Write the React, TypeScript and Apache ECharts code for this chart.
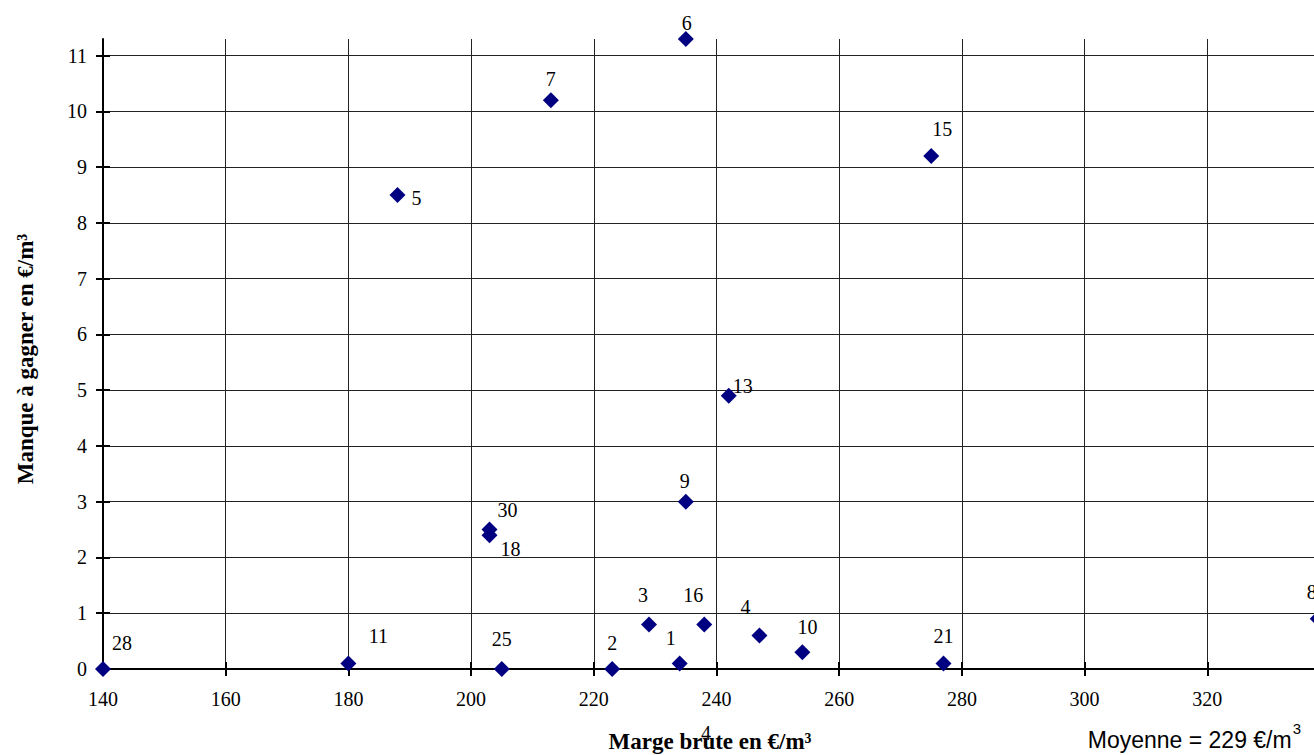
import React, { useEffect, useRef } from "react";
import * as echarts from "echarts";

// ---- data ----
const pointIds = ["28", "11", "5", "30", "18", "25", "7", "2", "3", "1", "16", "6", "9", "13", "4", "10", "15", "21", "8"];
const margeBrute = [140, 180, 188, 203, 203, 205, 213, 223, 229, 234, 238, 235, 235, 242, 247, 254, 275, 277, 338];
const manqueAGagner = [0, 0.1, 8.5, 2.5, 2.4, 0, 10.2, 0, 0.8, 0.1, 0.8, 11.3, 3.0, 4.9, 0.6, 0.3, 9.2, 0.1, 0.9];
const xTickValues = [140, 160, 180, 200, 220, 240, 260, 280, 300, 320, 340];
const xLabelValues = [140, 160, 180, 200, 220, 240, 260, 280, 300, 320];
const yTickValues = [0, 1, 2, 3, 4, 5, 6, 7, 8, 9, 10, 11];
const xTitle = "Marge brute en €/m³";
const yTitle = "Manque à gagner en €/m³";
const moyenneMain = "Moyenne = 229 €/m";
const moyenneSup = "3";

// ---- label placement (layout only) ----
const labelOffsets: Record<string, [number, number]> = {
  "28": [19, -26], "11": [30, -27], "5": [19, 3], "30": [18, -20], "18": [21, 14],
  "25": [0, -30], "7": [0, -21], "2": [0, -26], "3": [-6, -29], "1": [-9, -25],
  "16": [-11, -29], "6": [1, -16], "9": [-1, -21], "13": [14, -10], "4": [-14, -29],
  "10": [5, -25], "15": [11, -27], "21": [0, -27], "8": [-6, -27],
};

const SERIF = "'Liberation Serif', 'Times New Roman', serif";
const SANS = "'Liberation Sans', Arial, sans-serif";

export default function App() {
  const ref = useRef<HTMLDivElement>(null);
  useEffect(() => {
    if (!ref.current) return;
    const chart = echarts.init(ref.current, undefined, { renderer: "svg" });
    const data = pointIds.map((id, i) => ({
      name: id,
      value: [margeBrute[i], manqueAGagner[i]],
      label: { offset: labelOffsets[id] || [0, -25] },
    }));
    const axisLineStyle = { color: "#000", width: 2 };
    chart.setOption({
      animation: false,
      backgroundColor: "#fff",
      grid: { left: 103, top: 39, right: 0, bottom: 86, containLabel: false, outerBoundsMode: "none" },
      xAxis: [
        {
          type: "value",
          min: 140,
          max: 340,
          interval: 20,
          axisLine: { show: true, onZero: false, lineStyle: axisLineStyle },
          axisTick: { show: true, inside: false, length: 7, customValues: xTickValues, lineStyle: { color: "#000", width: 2 } },
          axisLabel: { show: true, margin: 20, color: "#000", fontFamily: SERIF, fontSize: 20, customValues: xLabelValues },
          splitLine: { show: true, lineStyle: { color: "#222", width: 1 } },
        },
        {
          type: "value",
          position: "bottom",
          min: 140,
          max: 340,
          interval: 20,
          axisLine: { show: false, onZero: false },
          axisTick: { show: true, inside: true, length: 7, customValues: xTickValues, lineStyle: { color: "#000", width: 2 } },
          axisLabel: { show: false },
          splitLine: { show: false },
        },
      ],
      yAxis: [
        {
          type: "value",
          min: 0,
          max: 11.3,
          interval: 1,
          axisLine: { show: true, onZero: false, lineStyle: axisLineStyle },
          axisTick: { show: true, inside: false, length: 7, customValues: yTickValues, lineStyle: { color: "#000", width: 2 } },
          axisLabel: { show: true, margin: 16, color: "#000", fontFamily: SERIF, fontSize: 20, customValues: yTickValues },
          splitLine: { show: true, lineStyle: { color: "#222", width: 1 } },
        },
        {
          type: "value",
          position: "left",
          min: 0,
          max: 11.3,
          interval: 1,
          axisLine: { show: false, onZero: false },
          axisTick: { show: true, inside: true, length: 7, customValues: yTickValues, lineStyle: { color: "#000", width: 2 } },
          axisLabel: { show: false },
          splitLine: { show: false },
        },
      ],
      series: [
        {
          type: "scatter",
          xAxisIndex: 0,
          yAxisIndex: 0,
          symbol: "diamond",
          symbolSize: 16,
          itemStyle: { color: "#000080", opacity: 1 },
          label: {
            show: true,
            position: "inside",
            formatter: "{b}",
            color: "#000",
            fontFamily: SERIF,
            fontSize: 20,
          },
          emphasis: { disabled: true },
          data,
          z: 5,
        },
      ],
      graphic: [
        {
          type: "text",
          x: 710,
          y: 741,
          style: { text: xTitle, font: `bold 23px ${SERIF}`, fill: "#000", textAlign: "center", textVerticalAlign: "middle" },
        },
        {
          type: "text",
          x: 25,
          y: 359,
          rotation: Math.PI / 2,
          style: { text: yTitle, font: `bold 23px ${SERIF}`, fill: "#000", textAlign: "center", textVerticalAlign: "middle" },
        },
        {
          type: "text",
          x: 706,
          y: 733,
          style: { text: "4", font: `20px ${SERIF}`, fill: "#000", textAlign: "center", textVerticalAlign: "middle" },
        },
        {
          type: "text",
          x: 1301,
          y: 736,
          style: {
            text: `{a|${moyenneMain}}{s|${moyenneSup}}`,
            fill: "#000",
            textAlign: "right",
            textVerticalAlign: "middle",
            rich: {
              a: { fontFamily: SANS, fontSize: 23, lineHeight: 30, verticalAlign: "bottom", fill: "#000" },
              s: { fontFamily: SANS, fontSize: 15, lineHeight: 15, verticalAlign: "top", fill: "#000", padding: [0, 0, 0, 1] },
            },
          },
        },
      ],
    });
    return () => chart.dispose();
  }, []);
  return (
    <div style={{ position: "fixed", left: 0, top: 0, width: 1314, height: 755, overflow: "hidden", background: "#fff" }}>
      <div ref={ref} style={{ position: "absolute", left: 0, top: 0, width: 1330, height: 755 }} />
    </div>
  );
}
